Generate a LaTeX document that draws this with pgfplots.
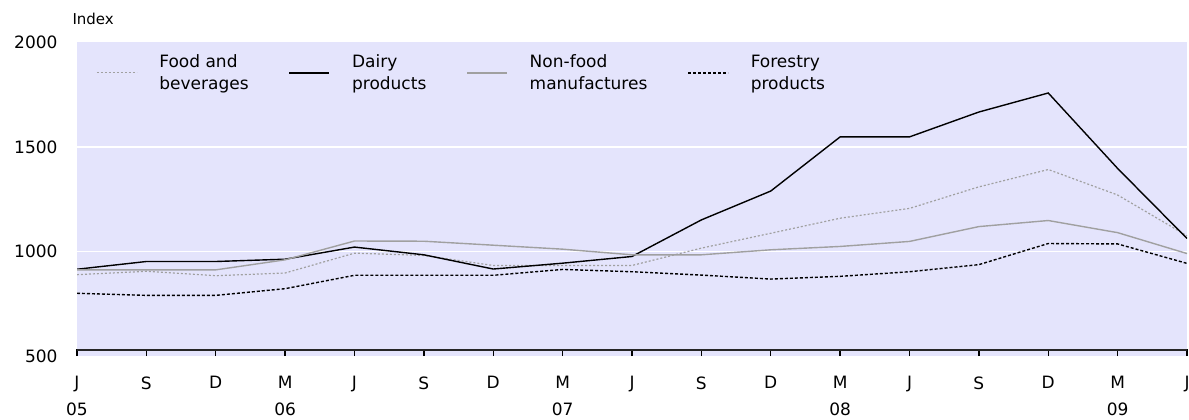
\documentclass[border=0pt]{standalone}
\usepackage{fontspec}
\setmainfont{DejaVu Sans}
\usepackage{pgfplots}
\pgfplotsset{compat=1.18}
\definecolor{bgpanel}{RGB}{228,228,252}
\definecolor{foodgray}{RGB}{160,160,160}
\definecolor{nonfoodgray}{RGB}{160,160,160}
\begin{document}
\begin{tikzpicture}
\begin{axis}[
  name=ax,
  scale only axis,
  width=1110pt, height=313.6pt,
  xmin=0, xmax=16, ymin=500, ymax=2000,
  axis background/.style={fill=bgpanel},
  axis line style={draw=none},
  xtick={0,...,16},
  xticklabels={J\\05,S,D,M\\06,J,S,D,M\\07,J,S,D,M\\08,J,S,D,M\\09,J},
  xticklabel style={align=center, font=\fontsize{17}{27}\selectfont, yshift=-17pt},
  xtick pos=bottom,
  xtick align=inside,
  major tick length=7pt,
  xtick style={draw=black, line width=1.3pt},
  ytick={500,1000,1500,2000},
  yticklabels={500,1000,1500,2000},
  yticklabel style={font=\fontsize{17}{20}\selectfont, xshift=-16pt},
  ytick style={draw=none},
  extra y ticks={1000,1500},
  extra y tick labels={},
  extra y tick style={grid=major, major grid style={white, line width=1.5pt}, tick style={draw=none}},
  legend columns=4,
  legend cell align=left,
  legend image code/.code={\draw[#1] (0pt,0pt) -- (40pt,0pt);},
  legend style={at={(rel axis cs:0,1)}, anchor=north west, xshift=16pt, yshift=-10pt,
    draw=none, fill=none, font=\fontsize{17}{22}\selectfont,
    nodes={align=left, inner sep=0pt},
    /tikz/every odd column/.style={column sep=22pt},
    /tikz/every even column/.style={column sep=40pt}},
]
\addplot[foodgray, line width=1.2pt, dash pattern=on 2pt off 2pt] coordinates {
 (0,889) (1,905) (2,884) (3,897) (4,992) (5,981) (6,933) (7,933) (8,933)
 (9,1016) (10,1087) (11,1159) (12,1206) (13,1309) (14,1392) (15,1270) (16,1075)};
\addlegendentry{Food and\\beverages}
\addplot[black, line width=1.4pt] coordinates {
 (0,915) (1,952) (2,952) (3,963) (4,1021) (5,984) (6,916) (7,944) (8,976)
 (9,1151) (10,1289) (11,1548) (12,1548) (13,1667) (14,1758) (15,1397) (16,1062)};
\addlegendentry{Dairy\\products}
\addplot[nonfoodgray, line width=1.4pt] coordinates {
 (0,912) (1,912) (2,912) (3,960) (4,1050) (5,1049) (6,1030) (7,1011) (8,984)
 (9,984) (10,1008) (11,1024) (12,1048) (13,1119) (14,1148) (15,1090) (16,990)};
\addlegendentry{Non-food\\manufactures}
\addplot[black, line width=1.4pt, dash pattern=on 3pt off 2pt] coordinates {
 (0,800) (1,790) (2,790) (3,822) (4,886) (5,886) (6,886) (7,914) (8,903)
 (9,887) (10,868) (11,881) (12,903) (13,937) (14,1038) (15,1036) (16,943)};
\addlegendentry{Forestry\\products}
\draw[black!85, line width=1.8pt] (axis cs:0,530) -- (axis cs:16,530);
\end{axis}
\node[anchor=base west, font=\fontsize{15}{18}\selectfont] at ([xshift=-8pt,yshift=18pt]ax.north west) {Index};
\pgfresetboundingbox
\path[use as bounding box] ([xshift=-77pt,yshift=-63pt]ax.south west) rectangle ([xshift=2pt,yshift=42.4pt]ax.north east);
\end{tikzpicture}
\end{document}
